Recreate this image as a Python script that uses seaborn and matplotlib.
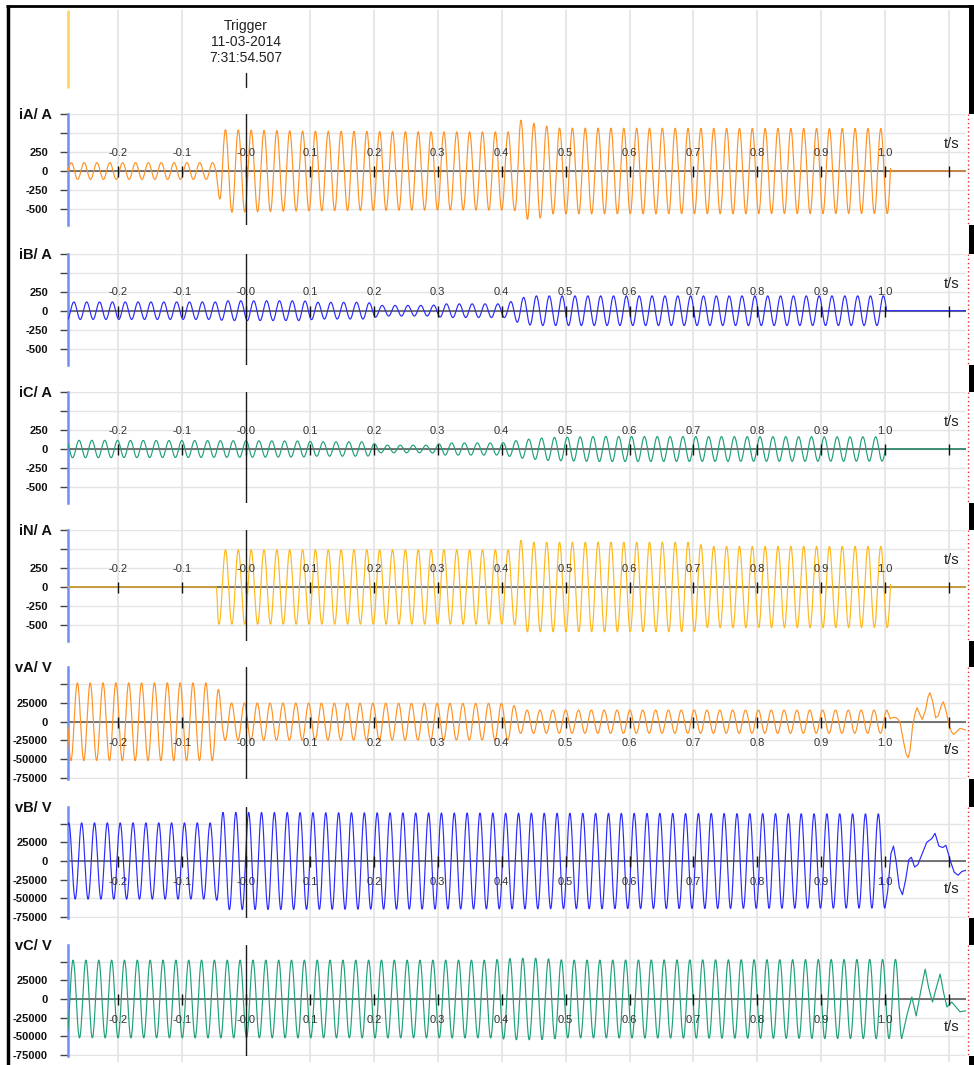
import numpy as np
import pandas as pd
import matplotlib
matplotlib.use("Agg")
import matplotlib.pyplot as plt
import seaborn as sns

sns.set_style("white")
plt.rcParams["font.family"] = ["Liberation Sans", "DejaVu Sans"]

W, H = 974, 1065
FREQ = 49.74
T_MIN, T_MAX = -0.2786, 1.128
DT = 0.0005

# ---------------- data ----------------
time_ticks = [-0.2, -0.1, 0.0, 0.1, 0.2, 0.3, 0.4, 0.5, 0.6, 0.7, 0.8, 0.9, 1.0]
time_labels = ["-0.2", "-0.1", "-0.0", "0.1", "0.2", "0.3", "0.4", "0.5",
               "0.6", "0.7", "0.8", "0.9", "1.0"]
grid_times = [-0.2, -0.1, 0.1, 0.2, 0.3, 0.4, 0.5, 0.6, 0.7, 0.8, 0.9, 1.0, 1.1]
unit_time = 1.1
unit_label = "t/s"

trigger_lines = ["Trigger", "11-03-2014", "7:31:54.507"]

channel_names = ["iA/ A", "iB/ A", "iC/ A", "iN/ A", "vA/ V", "vB/ V", "vC/ V"]
channel_colors = ["#ff9224", "#2a2aff", "#1fa07c", "#ffb81c",
                  "#ff9224", "#2a2aff", "#1fa07c"]

current_ticks = [-500, -250, 0, 250, 500, 750]
current_tick_labels = ["-500", "-250", "0", "250", "", ""]
voltage_ticks = [-75000, -50000, -25000, 0, 25000, 50000]
voltage_tick_labels = ["-75000", "-50000", "-25000", "0", "25000", ""]

# envelopes (time, amplitude), time of a crest, end of record
iA_env_t = [-0.28, -0.047, -0.038, 0.10, 0.30, 0.42, 0.428, 0.436, 0.46, 0.48, 1.01]
iA_env_a = [110, 110, 545, 525, 515, 515, 680, 640, 620, 565, 560]
iA_peak, iA_stop = 0.008, 1.0085

iB_env_t = [-0.28, -0.045, -0.035, 0.09, 0.11, 0.19, 0.21, 0.29, 0.31, 0.405, 0.43, 0.45, 1.0]
iB_env_a = [115, 115, 130, 130, 110, 110, 70, 70, 90, 90, 170, 195, 195]
iB_peak, iB_stop = 0.012, 1.002

iC_env_t = [-0.28, -0.04, 0.09, 0.11, 0.19, 0.21, 0.29, 0.31, 0.40, 0.43, 0.47, 0.55, 1.0]
iC_env_a = [115, 110, 105, 95, 95, 50, 50, 80, 80, 120, 150, 165, 160]
iC_peak, iC_stop = 0.0, 1.0003

iN_env_t = [-0.28, -0.0465, -0.044, 0.42, 0.428, 0.44, 0.70, 0.72, 1.01]
iN_env_a = [0, 0, 490, 490, 620, 590, 590, 535, 535]
iN_peak, iN_stop = 0.008, 1.0085

vA_env_t = [-0.28, -0.047, -0.043, -0.036, 0.415, 0.428, 1.01]
vA_env_a = [52000, 52000, 43000, 25000, 24500, 15500, 15500]
vA_peak, vA_stop = -0.0026, 1.003
vA_tail_t = [1.008, 1.013, 1.018, 1.023, 1.029, 1.033, 1.036, 1.039, 1.043, 1.047,
             1.050, 1.054, 1.058, 1.063, 1.067, 1.070, 1.074, 1.079, 1.083, 1.088,
             1.091, 1.095, 1.100, 1.104, 1.107, 1.111, 1.117, 1.122, 1.128]
vA_tail_v = [4000, 6000, 5000, 0, -28000, -44000, -48000, -38000, -5000, 12000,
             18700, 10000, 3000, 15000, 33000, 38800, 28000, 5000, 8000, 22000,
             26700, 15000, -5000, -14000, -17000, -14000, -9000, -10000, -12000]

vB_env_t = [-0.28, -0.047, -0.038, 0.40, 1.01]
vB_env_a = [51000, 51000, 65000, 64000, 63000]
vB_peak, vB_stop = 0.0041, 1.0
vB_tail_t = [1.004, 1.009, 1.013, 1.017, 1.022, 1.027, 1.032, 1.037, 1.041, 1.046,
             1.051, 1.058, 1.065, 1.073, 1.078, 1.084, 1.090, 1.095, 1.102, 1.108,
             1.114, 1.120, 1.128]
vB_tail_v = [-40000, 10000, 20000, 0, -35000, -45000, -25000, 2000, 5000, -8000,
             -5000, 10000, 25000, 30000, 37000, 20000, 18000, 21000, 0, -15000,
             -19000, -14000, -12000]

vC_env_t = [-0.28, 0.38, 0.42, 0.46, 0.50, 1.03]
vC_env_a = [52000, 52000, 54500, 54500, 52000, 53000]
vC_peak, vC_stop = 0.0108, 1.026
vC_tail_t = [1.0345, 1.0417, 1.0485, 1.0555, 1.0626, 1.068, 1.074, 1.080, 1.086,
             1.091, 1.0966, 1.100, 1.104, 1.110, 1.117, 1.125, 1.128]
vC_tail_v = [-20000, 2700, -22700, 10000, 40000, 15000, -4000, 15000, 33400,
             10000, -10700, -8000, -4000, -10000, -17000, -16000, -15000]


def build(env_t, env_a, peak, stop, tail_t=None, tail_v=None):
    t = np.arange(T_MIN, stop, DT)
    v = np.interp(t, env_t, env_a) * np.cos(2 * np.pi * FREQ * (t - peak))
    if tail_t is None:
        tail_t, tail_v = [stop, T_MAX], [0.0, 0.0]
    return pd.DataFrame({"t": np.concatenate([t, tail_t]),
                         "v": np.concatenate([v, tail_v])})


frames = [
    build(iA_env_t, iA_env_a, iA_peak, iA_stop),
    build(iB_env_t, iB_env_a, iB_peak, iB_stop),
    build(iC_env_t, iC_env_a, iC_peak, iC_stop),
    build(iN_env_t, iN_env_a, iN_peak, iN_stop),
    build(vA_env_t, vA_env_a, vA_peak, vA_stop, vA_tail_t, vA_tail_v),
    build(vB_env_t, vB_env_a, vB_peak, vB_stop, vB_tail_t, vB_tail_v),
    build(vC_env_t, vC_env_a, vC_peak, vC_stop, vC_tail_t, vC_tail_v),
]

# ---------------- layout (pixels) ----------------
zeros_px = [171, 310.7, 449, 587, 721.7, 861, 999]
X0, X1 = 68, 967
K_CUR = 19 / 250.0
K_VOL = 18.7 / 25000.0
CUR_LIM = (-710, 750)
VOL_LIM = (-76000, 72500)

fig = plt.figure(figsize=(W / 100, H / 100), dpi=100)
fig.patch.set_facecolor("white")


def rect(x0, y0, x1, y1):
    return [x0 / W, 1 - y1 / H, (x1 - x0) / W, (y1 - y0) / H]


# background vertical grid
bg = fig.add_axes(rect(X0, 10, X1, 1062), zorder=0)
bg.set_xlim(T_MIN, T_MAX)
bg.set_ylim(0, 1)
bg.axis("off")
for gt in grid_times:
    bg.axvline(gt, color="#e3e3e3", lw=1.2)

panel_boxes = []
for i, (name, color, df) in enumerate(zip(channel_names, channel_colors, frames)):
    is_cur = i < 4
    k = K_CUR if is_cur else K_VOL
    lo, hi = CUR_LIM if is_cur else VOL_LIM
    z = zeros_px[i]
    top_px, bot_px = z - hi * k, z - lo * k
    panel_boxes.append((top_px, bot_px))
    ax = fig.add_axes(rect(X0, top_px, X1, bot_px), zorder=1)
    ax.set_facecolor("none")
    ax.set_xlim(T_MIN, T_MAX)
    ax.set_ylim(lo, hi)

    ticks = current_ticks if is_cur else voltage_ticks
    tlabels = current_tick_labels if is_cur else voltage_tick_labels
    ax.set_yticks(ticks)
    ax.set_yticklabels(tlabels, fontweight="bold", fontsize=8, color="#111")
    ax.set_xticks([])
    ax.tick_params(axis="y", left=True, length=5.8, width=1, color="#444", pad=8.6)
    ax.grid(axis="y", color="#e4e4e4", lw=1)
    ax.grid(axis="x", visible=False)
    ax.set_axisbelow(True)
    for s in ["top", "right", "bottom"]:
        ax.spines[s].set_visible(False)
    ax.spines["left"].set_color("#6f8ff7")
    ax.spines["left"].set_linewidth(1.8)

    ax.axhline(0, color="#505050", lw=1.1, zorder=2)
    ax.axvline(0, color="#1a1a1a", lw=1, zorder=5)
    ax.vlines(time_ticks + [unit_time], -6 / k, 5 / k, color="#111", lw=1, zorder=5)

    sns.lineplot(data=df, x="t", y="v", ax=ax, color=color, lw=0.85,
                 estimator=None, sort=False, legend=False, zorder=3)
    ax.set_xlabel("")
    ax.set_ylabel("")

    lab_y = 18.3 / k if is_cur else -21 / k
    for tt, tl in zip(time_ticks, time_labels):
        ax.text(tt, lab_y, tl, ha="center", va="center", fontsize=8,
                color="#333", zorder=4)
    unit_y = 27 / k if is_cur else -28 / k
    ax.text(1.104, unit_y, unit_label, ha="center", va="center", fontsize=10.5,
            color="#222")

# overlay in pixel coordinates
ov = fig.add_axes([0, 0, 1, 1], zorder=2)
ov.set_facecolor("none")
ov.set_xlim(0, W)
ov.set_ylim(H, 0)
ov.axis("off")

# frame
ov.plot([7.5, 7.5], [5, H], color="black", lw=2.5, solid_capstyle="butt")
ov.plot([6, W], [6, 6], color="black", lw=2, solid_capstyle="butt")
ov.fill_between([969, 974], 5, H, color="black", lw=0)
for (top_px, bot_px) in panel_boxes:
    ov.fill_between([966, 974], top_px, bot_px, color="white", lw=0)
    ov.plot([967.5, 967.5], [top_px, bot_px], color="#e03030", lw=1,
            linestyle=(0, (1, 2)))

# top digital area
ov.plot([X0, X0], [11, 87], color="#ffd75e", lw=2)
ov.plot([246, 246], [73, 87], color="#1a1a1a", lw=1)
for j, line in enumerate(trigger_lines):
    ov.text(246, 26 + 16 * j, line, ha="center", va="center", fontsize=10,
            color="#222")

# channel labels
for i, name in enumerate(channel_names):
    top_px = panel_boxes[i][0]
    ov.text(52, top_px + 1, name, ha="right", va="center", fontsize=10.5,
            fontweight="bold", color="#111")

fig.savefig("out.png", dpi=100)
